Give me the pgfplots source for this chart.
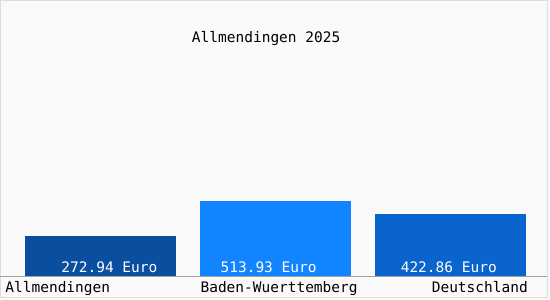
\documentclass[border=0pt]{standalone}
\usepackage{pgfplots}
\pgfplotsset{compat=1.18}
\usepackage{fontspec}
\setmainfont{DejaVu Sans Mono}
\definecolor{bgc}{RGB}{250,250,250}
\definecolor{bordc}{RGB}{220,220,220}
\definecolor{axc}{RGB}{160,160,160}
\definecolor{barA}{RGB}{10,78,160}
\definecolor{barB}{RGB}{18,132,255}
\definecolor{barC}{RGB}{10,100,205}
\begin{document}
\begin{tikzpicture}
\begin{axis}[
  width=550bp, height=300bp, scale only axis,
  xmin=-0.5743, xmax=2.5686, ymin=-164.4, ymax=1890.4,
  hide axis, clip=false,
  bar width=151bp,
  font=\fontsize{14.5bp}{16bp}\selectfont,
]
\fill[bgc] (rel axis cs:0,0) rectangle (rel axis cs:1,1);
\draw[bordc] (rel axis cs:0.0009,0.0083) rectangle (rel axis cs:0.9954,0.9983);
\addplot[ybar, fill=barA, draw=none, bar shift=0pt] coordinates {(0,272.94)};
\addplot[ybar, fill=barB, draw=none, bar shift=0pt] coordinates {(1,513.93)};
\addplot[ybar, fill=barC, draw=none, bar shift=0pt] coordinates {(2,422.86)};
\draw[axc] (axis cs:-0.5743,0) -- (axis cs:2.5514,0);
\node[white, anchor=base] at (axis cs:0.05,20) {272.94 Euro};
\node[white, anchor=base] at (axis cs:0.96,20) {513.93 Euro};
\node[white, anchor=base] at (axis cs:1.99,20) {422.86 Euro};
\node[anchor=base west, inner sep=0] at (axis cs:-0.5457,-116.4) {Allmendingen};
\node[anchor=base, inner sep=0] at (axis cs:1.02,-116.4) {Baden-Wuerttemberg};
\node[anchor=base east, inner sep=0] at (axis cs:2.4429,-116.4) {Deutschland};
\node[anchor=base, inner sep=0] at (axis cs:0.946,1595.9) {Allmendingen 2025};
\end{axis}
\end{tikzpicture}
\end{document}
